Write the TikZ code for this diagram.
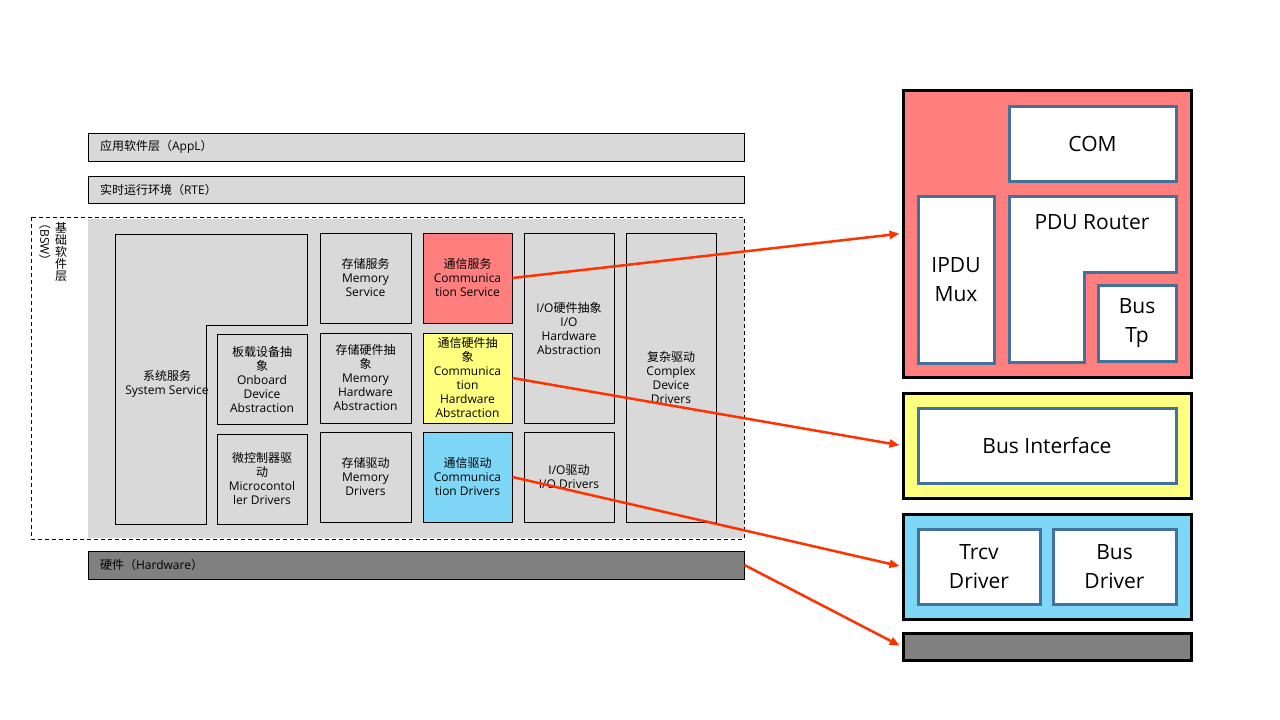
\documentclass[tikz,border=0pt]{standalone}
\usepackage{fontspec}
\setmainfont{Open Sans}
\newfontfamily\cjk{Noto Sans CJK SC}
\newcommand\zh[1]{{\cjk #1}}
\usetikzlibrary{arrows.meta}
\definecolor{lgray}{HTML}{D9D9D9}
\definecolor{dgray}{HTML}{808080}
\definecolor{cred}{HTML}{FF7F7F}
\definecolor{cyel}{HTML}{FFFF80}
\definecolor{cblue}{HTML}{7FD7F7}
\definecolor{bord}{HTML}{41719C}
\definecolor{arrc}{RGB}{255,51,0}
\begin{document}
\begin{tikzpicture}[x=1pt,y=-1pt,
  small/.style={font=\fontsize{12}{14}\selectfont},
  big/.style={font=\fontsize{21}{29}\selectfont},
  bar/.style={draw=black,line width=0.9pt,minimum width=656pt,inner sep=0pt},
  lbox/.style={draw=black,line width=0.9pt,fill=lgray,inner sep=0pt,align=center,small},
  obox/.style={draw=black,line width=3pt,minimum width=288pt,inner sep=0pt},
  ibox/.style={draw=bord,line width=3pt,fill=white,inner sep=0pt,align=center,big},
  arr/.style={draw=arrc,line width=2.5pt,-{Triangle[length=10pt,width=8pt]}}
]
\useasboundingbox (0,0) rectangle (1280,720);
\fill[white] (0,0) rectangle (1280,720);

% top bars
\node[bar,fill=lgray,minimum height=28pt] (appl) at (416,147) {};
\node[small,anchor=west] (appltxt) at ([xshift=9pt]appl.west) {\zh{应用软件层（}AppL\zh{）}};
\node[bar,fill=lgray,minimum height=27pt] (rte) at (416,189.5) {};
\node[small,anchor=west] (rtetxt) at ([xshift=9pt]rte.west) {\zh{实时运行环境（}RTE\zh{）}};

% BSW area
\fill[lgray] (88,219) rectangle (744,538);
\draw[black,line width=0.9pt,dash pattern=on 4pt off 3pt] (31,217) rectangle (744,539);
\node[inner sep=0pt,align=center,font=\fontsize{12}{12}\selectfont] (bswzh) at (61,252) {\zh{基}\\\zh{础}\\\zh{软}\\\zh{件}\\\zh{层}};
\node[inner sep=0pt,rotate=-90,small] (bswen) at (45,242) {\zh{（}BSW\zh{）}};

% System service L shape
\draw[black,line width=0.9pt,fill=lgray] (115,234) -- (307,234) -- (307,325) -- (206,325) -- (206,524) -- (115,524) -- cycle;
\node[small,align=center,inner sep=0pt] (ss) at (167,384) {\zh{系统服务}\\System Service};

\node[lbox,minimum width=90pt,minimum height=90pt] (onb) at (262,379) {\zh{板载设备抽}\\\zh{象}\\Onboard\\Device\\Abstraction};
\node[lbox,minimum width=90pt,minimum height=90pt] (mcu) at (262,479) {\zh{微控制器驱}\\\zh{动}\\Microcontol\\ler Drivers};

\node[lbox,minimum width=91pt,minimum height=90pt] (ms) at (365.5,278) {\zh{存储服务}\\Memory\\Service};
\node[lbox,minimum width=91pt,minimum height=90pt] (mha) at (365.5,378) {\zh{存储硬件抽}\\\zh{象}\\Memory\\Hardware\\Abstraction};
\node[lbox,minimum width=91pt,minimum height=90pt] (md) at (365.5,477) {\zh{存储驱动}\\Memory\\Drivers};

\node[lbox,fill=cred,minimum width=89pt,minimum height=90pt] (cs) at (467.5,278) {\zh{通信服务}\\Communica\\tion Service};
\node[lbox,fill=cyel,minimum width=89pt,minimum height=90pt] (cha) at (467.5,378) {\zh{通信硬件抽}\\\zh{象}\\Communica\\tion\\Hardware\\Abstraction};
\node[lbox,fill=cblue,minimum width=89pt,minimum height=90pt] (cd) at (467.5,477) {\zh{通信驱动}\\Communica\\tion Drivers};

\node[lbox,minimum width=90pt,minimum height=190pt] (ioha) at (569,328) {I/O\zh{硬件抽象}\\I/O\\Hardware\\Abstraction};
\node[lbox,minimum width=90pt,minimum height=90pt] (iod) at (569,477) {I/O\zh{驱动}\\I/O Drivers};
\node[lbox,minimum width=90pt,minimum height=289pt] (cdd) at (671,377.5) {\zh{复杂驱动}\\Complex\\Device\\Drivers};

% hardware bar
\node[bar,fill=dgray,minimum height=28pt] (hw) at (416,565) {};
\node[small,anchor=west] (hwtxt) at ([xshift=9pt]hw.west) {\zh{硬件（}Hardware\zh{）}};

% right stack
\node[obox,fill=cred,minimum height=287pt] (rbox) at (1047,233.5) {};
\node[ibox,minimum width=167pt,minimum height=75pt] (com) at (1092.5,143.5) {COM};
\node[ibox,minimum width=76pt,minimum height=167pt] (ipdu) at (956,279.5) {IPDU\\Mux};
\draw[bord,line width=3pt,fill=white,line join=miter] (1009,196) -- (1176,196) -- (1176,272) -- (1084,272) -- (1084,362) -- (1009,362) -- cycle;
\node[big,inner sep=0pt] (pdur) at (1092,222) {PDU Router};
\node[ibox,minimum width=78pt,minimum height=76pt] (bustp) at (1137,323) {Bus\\Tp};

\node[obox,fill=cyel,minimum height=105pt] (ybox) at (1047,445.5) {};
\node[ibox,minimum width=258pt,minimum height=75pt] (busif) at (1047,445.5) {Bus Interface};

\node[obox,fill=cblue,minimum height=105pt] (bbox) at (1047,566.5) {};
\node[ibox,minimum width=122pt,minimum height=75pt] (trcv) at (979,566.5) {Trcv\\Driver};
\node[ibox,minimum width=123pt,minimum height=75pt] (busdrv) at (1114.5,566.5) {Bus\\Driver};

\node[obox,fill=dgray,minimum height=27pt] (gbox) at (1047,646.5) {};

% arrows
\draw[arr,shorten >=2pt] (cs.east) -- (rbox.west);
\draw[arr,shorten >=2pt] (cha.east) -- (ybox.west);
\draw[arr,shorten >=2pt] (cd.east) -- (bbox.west);
\draw[arr,shorten >=2pt] (hw.east) -- (gbox.west);
\end{tikzpicture}
\end{document}
